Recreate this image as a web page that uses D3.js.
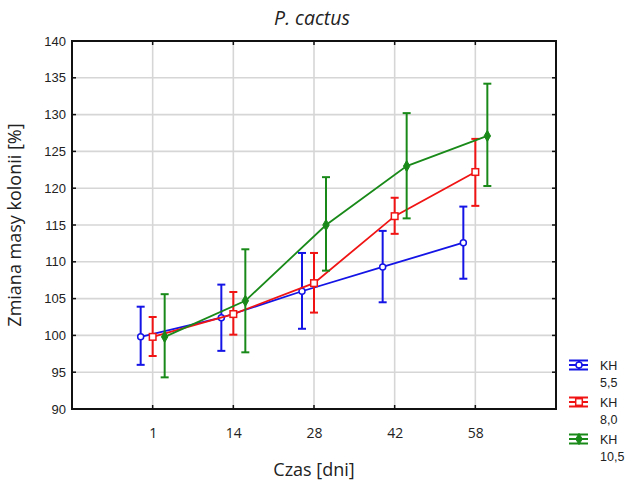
<!DOCTYPE html>
<html>
<head>
<meta charset="utf-8">
<script src="https://cdn.jsdelivr.net/npm/d3@7"></script>
<style>
  body { margin: 0; background: #fff; }
  svg { display: block; }
</style>
</head>
<body>
<svg id="chart" width="634" height="487"></svg>
<script>
// data
const days = ["1", "14", "28", "42", "58"];
const yTicks = [90, 95, 100, 105, 110, 115, 120, 125, 130, 135, 140];

const kh55Mean = [99.8, 102.4, 106.0, 109.3, 112.6];
const kh55Hi   = [103.9, 106.9, 111.2, 114.2, 117.5];
const kh55Lo   = [96.0, 97.9, 100.9, 104.5, 107.7];

const kh80Mean = [99.8, 102.9, 107.1, 116.2, 122.2];
const kh80Hi   = [102.5, 105.9, 111.2, 118.7, 126.7];
const kh80Lo   = [97.2, 100.1, 103.1, 113.8, 117.6];

const kh105Mean = [99.8, 104.7, 115.0, 123.0, 127.1];
const kh105Hi   = [105.6, 111.7, 121.5, 130.2, 134.2];
const kh105Lo   = [94.3, 97.7, 108.8, 115.9, 120.3];

const seriesNames = [["KH", "5,5"], ["KH", "8,0"], ["KH", "10,5"]];

const series = [
  {name: seriesNames[0], mean: kh55Mean, hi: kh55Hi, lo: kh55Lo, color: "#1414e6", shift: -12, marker: "circle"},
  {name: seriesNames[1], mean: kh80Mean, hi: kh80Hi, lo: kh80Lo, color: "#f01414", shift: 0, marker: "square"},
  {name: seriesNames[2], mean: kh105Mean, hi: kh105Hi, lo: kh105Lo, color: "#198a19", shift: 12, marker: "diamond"}
];

const svg = d3.select("#chart");
const plotL = 72, plotR = 556, plotT = 41, plotB = 409;

// categories sit at 1..5 on a 0..6 range
const x = d3.scaleLinear().domain([0, days.length + 1]).range([plotL, plotR]);
const y = d3.scaleLinear().domain([90, 140]).range([plotB, plotT]);

// grid
const grid = svg.append("g").attr("class", "grid");
grid.selectAll("line.h")
  .data(yTicks.slice(1, -1))
  .enter().append("line")
  .attr("x1", plotL).attr("x2", plotR)
  .attr("y1", d => y(d)).attr("y2", d => y(d))
  .attr("stroke", "#d6d6d6").attr("stroke-width", 1.6);
grid.selectAll("line.v")
  .data(days)
  .enter().append("line")
  .attr("x1", (d, i) => x(i + 1)).attr("x2", (d, i) => x(i + 1))
  .attr("y1", plotT).attr("y2", plotB)
  .attr("stroke", "#d6d6d6").attr("stroke-width", 1.6);

// axes
const yAxis = d3.axisLeft(y).tickValues(yTicks).tickSize(0).tickPadding(6);
const yg = svg.append("g").attr("transform", `translate(${plotL},0)`).call(yAxis);
yg.select(".domain").remove();
yg.selectAll("text")
  .attr("font-family", "'Liberation Sans', Arial, sans-serif")
  .attr("font-size", 13).attr("fill", "#222");

const xAxis = d3.axisBottom(x)
  .tickValues(days.map((d, i) => i + 1))
  .tickFormat((d, i) => days[i])
  .tickSize(0).tickPadding(19);
const xg = svg.append("g").attr("transform", `translate(0,${plotB})`).call(xAxis);
xg.select(".domain").remove();
xg.selectAll("text")
  .attr("font-family", "'Open Sans', 'Noto Sans', sans-serif")
  .attr("font-size", 14).attr("fill", "#222");

// small inward tick marks on all four sides
const tk = svg.append("g").attr("stroke", "#111").attr("stroke-width", 1.5);
yTicks.slice(1, -1).forEach(v => {
  tk.append("line").attr("x1", plotL).attr("x2", plotL + 4).attr("y1", y(v)).attr("y2", y(v));
  tk.append("line").attr("x1", plotR - 4).attr("x2", plotR).attr("y1", y(v)).attr("y2", y(v));
});
days.forEach((d, i) => {
  tk.append("line").attr("x1", x(i + 1)).attr("x2", x(i + 1)).attr("y1", plotB - 4).attr("y2", plotB);
  tk.append("line").attr("x1", x(i + 1)).attr("x2", x(i + 1)).attr("y1", plotT).attr("y2", plotT + 4);
});

// frame
svg.append("rect")
  .attr("x", plotL).attr("y", plotT)
  .attr("width", plotR - plotL).attr("height", plotB - plotT)
  .attr("fill", "none").attr("stroke", "#111").attr("stroke-width", 2);

// series
const line = d3.line();
function drawMarker(g, s, cx, cy) {
  if (s.marker === "circle") {
    g.append("circle").attr("cx", cx).attr("cy", cy).attr("r", 3)
      .attr("fill", "#fff").attr("stroke", s.color).attr("stroke-width", 1.5);
  } else if (s.marker === "square") {
    g.append("rect").attr("x", cx - 3.3).attr("y", cy - 3.3).attr("width", 6.6).attr("height", 6.6)
      .attr("fill", "#fff").attr("stroke", s.color).attr("stroke-width", 1.5);
  } else {
    g.append("path")
      .attr("d", d3.symbol().type(d3.symbolDiamond).size(36)())
      .attr("transform", `translate(${cx},${cy})`)
      .attr("fill", s.color).attr("stroke", s.color).attr("stroke-width", 1);
  }
}

series.forEach(s => {
  const g = svg.append("g");
  const pts = s.mean.map((v, i) => [x(i + 1) + s.shift, y(v)]);
  g.append("path").attr("d", line(pts))
    .attr("fill", "none").attr("stroke", s.color).attr("stroke-width", 1.8);
  s.mean.forEach((v, i) => {
    const cx = x(i + 1) + s.shift;
    g.append("line").attr("x1", cx).attr("x2", cx)
      .attr("y1", y(s.lo[i])).attr("y2", y(s.hi[i]))
      .attr("stroke", s.color).attr("stroke-width", 2);
    [s.lo[i], s.hi[i]].forEach(e => {
      g.append("line").attr("x1", cx - 4).attr("x2", cx + 4)
        .attr("y1", y(e)).attr("y2", y(e))
        .attr("stroke", s.color).attr("stroke-width", 2);
    });
  });
  s.mean.forEach((v, i) => drawMarker(g, s, x(i + 1) + s.shift, y(v)));
});

// legend
const lg = svg.append("g");
series.forEach((s, k) => {
  const cy = 365 + k * 37;
  const g = lg.append("g");
  const x0 = 569, x1 = 588, cx = 579;
  [cy - 4.5, cy, cy + 4.5].forEach(yy => {
    g.append("line").attr("x1", x0).attr("x2", x1).attr("y1", yy).attr("y2", yy)
      .attr("stroke", s.color).attr("stroke-width", 2);
  });
  g.append("line").attr("x1", cx).attr("x2", cx).attr("y1", cy - 4.5).attr("y2", cy + 4.5)
    .attr("stroke", s.color).attr("stroke-width", 2);
  drawMarker(g, s, cx, cy);
  g.append("text").attr("x", 600).attr("y", cy + 4.5).text(s.name[0])
    .attr("font-family", "'Liberation Sans', Arial, sans-serif").attr("font-size", 12.5).attr("fill", "#222");
  g.append("text").attr("x", 600).attr("y", cy + 22).text(s.name[1])
    .attr("font-family", "'Liberation Sans', Arial, sans-serif").attr("font-size", 12.5).attr("fill", "#222");
});

// titles
svg.append("text").attr("x", 312).attr("y", 25).attr("text-anchor", "middle")
  .attr("font-family", "'Open Sans', 'Noto Sans', sans-serif").attr("font-style", "italic")
  .attr("font-size", 19.5).attr("fill", "#222").text("P. cactus");

svg.append("text").attr("x", 314).attr("y", 476).attr("text-anchor", "middle")
  .attr("font-family", "'Open Sans', 'Noto Sans', sans-serif")
  .attr("font-size", 18).attr("fill", "#222").text("Czas [dni]");

svg.append("text")
  .attr("transform", `translate(21,${(plotT + plotB) / 2}) rotate(-90)`)
  .attr("text-anchor", "middle")
  .attr("font-family", "'Open Sans', 'Noto Sans', sans-serif")
  .attr("font-size", 18).attr("fill", "#222").text("Zmiana masy kolonii [%]");
</script>
</body>
</html>
